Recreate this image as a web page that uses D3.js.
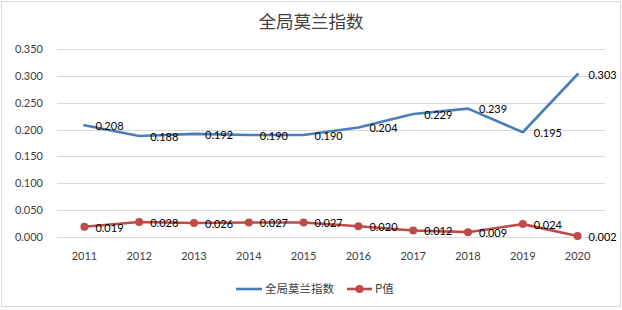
<!DOCTYPE html>
<html><head><meta charset="utf-8">
<script src="https://cdn.jsdelivr.net/npm/d3@7"></script>
<style>body{margin:0;background:#fff}</style>
</head><body><svg id="c" width="622" height="310"></svg>
<script>
const years = ["2011","2012","2013","2014","2015","2016","2017","2018","2019","2020"];
const moran = [0.208,0.188,0.192,0.190,0.190,0.204,0.229,0.239,0.195,0.303];
const pval = [0.019,0.028,0.026,0.027,0.027,0.020,0.012,0.009,0.024,0.002];
const yTicks = [0,0.05,0.1,0.15,0.2,0.25,0.3,0.35];
const title = "全局莫兰指数";
const seriesNames = ["全局莫兰指数","P值"];

const svg = d3.select("#c");
const numFont = "Lato, 'Liberation Sans', sans-serif";
const cjk = "'Noto Sans CJK SC', sans-serif";
svg.append("rect").attr("x",1.5).attr("y",1.5).attr("width",619).attr("height",305)
  .attr("fill","#fff").attr("stroke","#d9d9d9");

const x = d3.scaleBand().domain(years).range([57,605]);
const y = d3.scaleLinear().domain([0,0.35]).range([237,49]);
const cx = d => x(d)+x.bandwidth()/2;

svg.append("text").attr("x",311).attr("y",28).attr("text-anchor","middle")
  .attr("font-family",cjk).attr("font-size",17.5).attr("fill","#404040").text(title);

const g = svg.append("g");
g.selectAll("line.grid").data(yTicks).join("line")
  .attr("x1",57).attr("x2",605).attr("y1",d=>Math.round(y(d))+0.5).attr("y2",d=>Math.round(y(d))+0.5)
  .attr("stroke","#d9d9d9").attr("stroke-width",1);
const yAxis = d3.axisLeft(y).tickValues(yTicks).tickFormat(d3.format(".3f")).tickSize(0).tickPadding(0);
const ya = svg.append("g").attr("transform","translate(43,0)").call(yAxis);
ya.select(".domain").remove();
ya.selectAll("text").attr("font-family",numFont).attr("font-size",11).attr("fill","#404040");
const xAxis = d3.axisBottom(x).tickSize(0).tickPadding(0);
const xa = svg.append("g").attr("transform","translate(0,252)").call(xAxis);
xa.select(".domain").remove();
xa.selectAll("text").attr("font-family",numFont).attr("font-size",11).attr("fill","#404040");

const blue = "#4a7ebb", red = "#be4b48";
const line = d3.line().x((d,i)=>cx(years[i])).y(d=>y(d));
svg.append("path").attr("d",line(moran)).attr("fill","none").attr("stroke",blue)
  .attr("stroke-width",2.6).attr("stroke-linejoin","round").attr("stroke-linecap","round");
svg.append("path").attr("d",line(pval)).attr("fill","none").attr("stroke",red)
  .attr("stroke-width",2.6).attr("stroke-linejoin","round").attr("stroke-linecap","round");
svg.selectAll("circle.p").data(pval).join("circle")
  .attr("cx",(d,i)=>cx(years[i])).attr("cy",d=>y(d)).attr("r",4).attr("fill",red);

const lab = (arr) => svg.append("g").selectAll("text").data(arr).join("text")
  .attr("x",(d,i)=>cx(years[i])+11).attr("y",d=>y(d)+1).attr("dy","0.35em")
  .attr("font-family",numFont).attr("font-size",11).attr("fill","#000").text(d=>d3.format(".3f")(d));
lab(moran); lab(pval);

// legend
const lg = svg.append("g");
lg.append("line").attr("x1",236).attr("x2",262).attr("y1",289).attr("y2",289).attr("stroke",blue).attr("stroke-width",2.6);
lg.append("text").attr("x",265).attr("y",289).attr("dy","0.35em").attr("font-family",cjk).attr("font-size",11.5).attr("fill","#404040").text(seriesNames[0]);
lg.append("line").attr("x1",347).attr("x2",372).attr("y1",289).attr("y2",289).attr("stroke",red).attr("stroke-width",2.6);
lg.append("circle").attr("cx",359.5).attr("cy",289).attr("r",4).attr("fill",red);
lg.append("text").attr("x",375).attr("y",289).attr("dy","0.35em").attr("font-family",cjk).attr("font-size",11.5).attr("fill","#404040").text(seriesNames[1]);
</script></body></html>
